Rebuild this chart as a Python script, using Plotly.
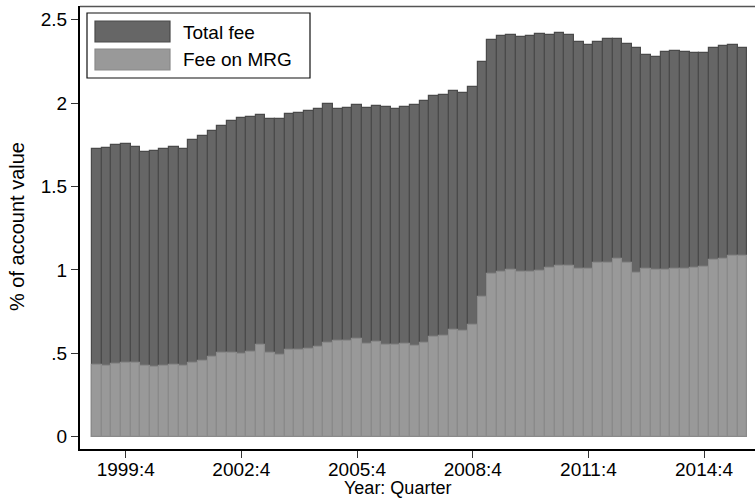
import plotly.graph_objects as go

quarters = [
    "1999:1", "1999:2", "1999:3", "1999:4", "2000:1", "2000:2", "2000:3", "2000:4",
    "2001:1", "2001:2", "2001:3", "2001:4", "2002:1", "2002:2", "2002:3", "2002:4",
    "2003:1", "2003:2", "2003:3", "2003:4", "2004:1", "2004:2", "2004:3", "2004:4",
    "2005:1", "2005:2", "2005:3", "2005:4", "2006:1", "2006:2", "2006:3", "2006:4",
    "2007:1", "2007:2", "2007:3", "2007:4", "2008:1", "2008:2", "2008:3", "2008:4",
    "2009:1", "2009:2", "2009:3", "2009:4", "2010:1", "2010:2", "2010:3", "2010:4",
    "2011:1", "2011:2", "2011:3", "2011:4", "2012:1", "2012:2", "2012:3", "2012:4",
    "2013:1", "2013:2", "2013:3", "2013:4", "2014:1", "2014:2", "2014:3", "2014:4",
    "2015:1", "2015:2", "2015:3", "2015:4",
]

total_fee = [
    1.723, 1.731, 1.749, 1.753, 1.735, 1.709, 1.711, 1.723,
    1.737, 1.723, 1.777, 1.801, 1.830, 1.865, 1.895, 1.909,
    1.915, 1.927, 1.907, 1.905, 1.937, 1.938, 1.952, 1.964,
    1.993, 1.962, 1.970, 1.987, 1.970, 1.981, 1.975, 1.964,
    1.975, 1.987, 2.012, 2.042, 2.048, 2.071, 2.060, 2.095,
    2.245, 2.380, 2.400, 2.406, 2.396, 2.400, 2.414, 2.408,
    2.420, 2.406, 2.366, 2.350, 2.369, 2.387, 2.382, 2.353,
    2.333, 2.289, 2.275, 2.305, 2.311, 2.305, 2.302, 2.302,
    2.333, 2.340, 2.349, 2.329,
]

fee_mrg = [
    0.428, 0.426, 0.436, 0.442, 0.440, 0.422, 0.416, 0.422,
    0.430, 0.422, 0.442, 0.454, 0.476, 0.502, 0.502, 0.494,
    0.506, 0.548, 0.502, 0.490, 0.520, 0.519, 0.526, 0.537,
    0.562, 0.574, 0.574, 0.586, 0.554, 0.566, 0.548, 0.548,
    0.554, 0.544, 0.562, 0.598, 0.604, 0.640, 0.634, 0.670,
    0.836, 0.975, 0.987, 0.998, 0.987, 0.987, 0.993, 1.009,
    1.021, 1.021, 1.007, 1.007, 1.040, 1.041, 1.063, 1.040,
    0.981, 1.003, 0.997, 0.997, 1.003, 1.003, 1.009, 1.015,
    1.057, 1.065, 1.085, 1.081,
]

x_tick_vals = ["1999:4", "2002:4", "2005:4", "2008:4", "2011:4", "2014:4"]
y_tick_vals = [0, 0.5, 1, 1.5, 2, 2.5]
y_tick_text = ["0", ".5", "1", "1.5", "2", "2.5"]

series_names = ["Total fee", "Fee on MRG"]
FONT = "Liberation Sans, Arial, Helvetica, sans-serif"
DARK = "#666666"
DARK_LINE = "#4a4a4a"
LIGHT = "#999999"
LIGHT_LINE = "#8a8a8a"

W, H = 755, 498
ML, MR, MT, MB = 80, 0, 6, 49
PW, PH = W - ML - MR, H - MT - MB


def px(x):
    return (x - ML) / PW


def py(y):
    return (H - MB - y) / PH


fig = go.Figure()
fig.add_trace(go.Bar(x=quarters, y=total_fee, name=series_names[0],
                     marker=dict(color=DARK, line=dict(color=DARK_LINE, width=1.2)),
                     showlegend=False))
fig.add_trace(go.Bar(x=quarters, y=fee_mrg, name=series_names[1],
                     marker=dict(color=LIGHT, line=dict(color=LIGHT_LINE, width=1.2)),
                     showlegend=False))

shapes = [
    # top border of plot region
    dict(type="line", xref="paper", yref="paper", x0=0, x1=1, y0=py(6.5), y1=py(6.5),
         line=dict(color="#555555", width=1.5)),
    # legend box
    dict(type="rect", xref="paper", yref="paper", x0=px(87), x1=px(310), y0=py(78), y1=py(13),
         line=dict(color="#111111", width=1.2), fillcolor="white"),
    dict(type="rect", xref="paper", yref="paper", x0=px(95), x1=px(170), y0=py(42), y1=py(21),
         line=dict(color=DARK_LINE, width=1.2), fillcolor=DARK),
    dict(type="rect", xref="paper", yref="paper", x0=px(95), x1=px(170), y0=py(70), y1=py(49),
         line=dict(color=LIGHT_LINE, width=1.2), fillcolor=LIGHT),
]

annotations = [
    dict(text=series_names[0], xref="paper", yref="paper", x=px(181), y=py(32),
         xanchor="left", yanchor="middle", showarrow=False,
         font=dict(family=FONT, size=19, color="black")),
    dict(text=series_names[1], xref="paper", yref="paper", x=px(181), y=py(60),
         xanchor="left", yanchor="middle", showarrow=False,
         font=dict(family=FONT, size=19, color="black")),
    dict(text="Year: Quarter", xref="paper", yref="paper", x=px(397), y=py(488),
         xanchor="center", yanchor="middle", showarrow=False,
         font=dict(family=FONT, size=18, color="black")),
    dict(text="% of account value", xref="paper", yref="paper", x=px(17), y=py(227),
         xanchor="center", yanchor="middle", showarrow=False, textangle=-90,
         font=dict(family=FONT, size=20, color="black")),
]

fig.update_layout(
    width=W, height=H,
    margin=dict(l=ML, r=MR, t=MT, b=MB, pad=0),
    paper_bgcolor="white", plot_bgcolor="white",
    barmode="overlay", bargap=0,
    font=dict(family=FONT, size=19, color="black"),
    shapes=shapes, annotations=annotations,
    xaxis=dict(type="category", range=[-1.74, 68.28],
               tickmode="array", tickvals=x_tick_vals, ticktext=x_tick_vals,
               ticks="outside", ticklen=7, tickwidth=1.2, tickcolor="#333333",
               ticklabelstandoff=-5,
               showline=True, linecolor="black", linewidth=2,
               showgrid=False, zeroline=False,
               tickfont=dict(family=FONT, size=19, color="black")),
    yaxis=dict(range=[(-(H - MB) + 436.7) / 166.8, (436.7 - MT) / 166.8],
               tickmode="array", tickvals=y_tick_vals, ticktext=y_tick_text,
               ticks="outside", ticklen=7, tickwidth=1.2, tickcolor="#333333",
               showline=True, linecolor="black", linewidth=2,
               showgrid=False, zeroline=False,
               tickfont=dict(family=FONT, size=19, color="black")),
)

fig.write_html("out.html")
